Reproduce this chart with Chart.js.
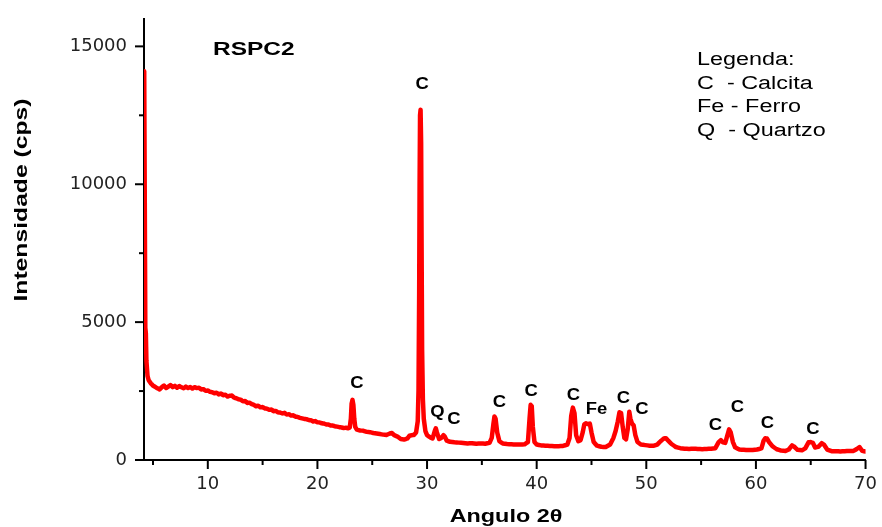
<!DOCTYPE html>
<html><head><meta charset="utf-8">
<script src="https://cdn.jsdelivr.net/npm/chart.js@4/dist/chart.umd.min.js"></script>
<style>html,body{margin:0;padding:0;background:#fff}</style>
</head><body>
<canvas id="c" width="882" height="527"></canvas>
<script>
// ---- data ----
const angle = [
4.2,4.25,4.3,4.35,4.4,4.5,4.6,
4.8,5.0,5.2,5.4,5.6,5.8,6.0,6.2,6.4,6.6,6.8,7.0,7.2,7.4,7.6,7.8,8.0,8.2,8.4,8.6,8.8,9.0,9.2,9.4,9.6,9.8,
10.0,10.2,10.4,10.6,10.8,11.0,11.2,11.4,11.6,11.8,12.0,12.2,12.4,12.6,12.8,13.0,13.2,13.4,13.6,13.8,
14.0,14.2,14.4,14.6,14.8,15.0,15.2,15.4,15.6,15.8,16.0,16.2,16.4,16.6,16.8,17.0,17.2,17.4,17.6,17.8,
18.0,18.2,18.4,18.6,18.8,19.0,19.2,19.4,19.6,19.8,20.0,20.2,20.4,20.6,20.8,21.0,21.2,21.4,21.6,21.8,
22.0,22.2,22.4,22.6,22.8,22.95,23.05,23.12,23.2,23.28,23.36,23.45,23.6,23.9,24.2,24.5,24.8,25.1,25.4,25.7,26.0,26.3,26.6,
26.8,27.0,27.3,27.6,27.9,28.2,28.4,28.6,28.8,29.0,29.15,29.22,29.28,29.32,29.36,29.41,29.46,29.5,29.55,29.62,29.7,
29.85,30.0,30.3,30.5,30.7,30.8,30.9,31.1,31.3,31.5,31.6,31.8,32.1,32.5,32.9,33.3,33.7,34.1,34.5,34.9,
35.3,35.7,35.9,36.05,36.15,36.25,36.4,36.6,36.9,37.3,37.7,38.1,38.5,38.9,39.2,39.35,39.45,39.55,39.65,
39.8,40.0,40.4,40.8,41.2,41.6,42.0,42.4,42.8,43.0,43.15,43.3,43.45,43.6,43.8,44.0,44.2,44.35,44.5,44.7,
44.85,45.0,45.2,45.5,45.9,46.3,46.7,47.0,47.2,47.4,47.55,47.7,47.85,48.0,48.15,48.3,48.45,48.55,48.7,
48.85,49.0,49.2,49.5,49.9,50.3,50.7,51.0,51.3,51.6,51.8,52.0,52.3,52.7,53.1,53.5,53.9,54.3,54.7,55.1,
55.5,55.9,56.3,56.6,56.8,57.0,57.2,57.4,57.55,57.7,57.9,58.1,58.5,58.9,59.3,59.7,60.1,60.5,60.7,60.85,
61.0,61.2,61.5,61.9,62.3,62.7,63.0,63.3,63.5,63.8,64.2,64.5,64.8,65.0,65.2,65.4,65.7,66.0,66.2,66.5,
66.9,67.3,67.7,68.1,68.5,68.9,69.2,69.45,69.7,70.0
];
const intensity = [
14100,9500,4800,4600,3600,3050,2900,
2780,2700,2650,2600,2560,2640,2700,2610,2660,2720,2640,2690,2620,2680,2640,2600,2660,2610,2650,2590,2640,2610,2620,2560,2570,2510,
2520,2470,2460,2420,2440,2380,2410,2350,2370,2300,2330,2340,2260,2240,2200,2190,2130,2140,2070,2080,
2030,2000,1950,1970,1910,1920,1870,1860,1820,1830,1770,1780,1730,1720,1690,1710,1650,1660,1610,1620,
1570,1560,1530,1510,1490,1480,1450,1440,1400,1410,1370,1360,1330,1320,1290,1290,1250,1250,1220,1210,
1190,1180,1160,1170,1150,1180,1500,2050,2180,2000,1500,1200,1100,1070,1060,1020,1010,980,960,940,920,910,960,
980,900,850,760,740,780,880,900,910,1000,1400,2500,6000,10000,12500,12700,11500,8000,4000,2200,1500,
1050,900,820,780,1050,1150,1000,760,800,900,860,700,660,640,630,620,600,610,590,600,
590,620,800,1300,1580,1500,1000,680,600,580,570,560,560,570,650,1500,2000,1950,1200,
650,560,530,520,510,500,500,510,560,800,1600,1900,1700,900,680,720,1000,1300,1330,1300,
1320,1000,650,520,480,470,560,800,1050,1400,1730,1700,1200,800,750,1100,1750,1500,1320,
1250,900,650,560,540,520,520,560,680,780,790,700,580,470,430,410,400,410,400,390,
400,410,430,650,720,640,620,900,1110,1000,650,460,380,370,360,360,380,420,700,790,
780,650,500,390,340,330,380,530,480,370,350,420,640,650,620,450,480,610,560,380,
320,320,310,320,330,330,400,470,330,310
];
const peakLabelText = ['C','C','Q','C','C','C','C','Fe','C','C','C','C','C','C'];
const peakLabelAngle = [23.6,29.55,30.95,32.45,36.6,39.5,43.36,45.45,47.9,49.6,56.3,58.3,61.05,65.2];
const peakLabelIntensity = [2770,13600,1730,1475,2070,2480,2340,1830,2210,1830,1260,1890,1330,1115];
const xMajorTicks = [10,20,30,40,50,60,70];
const xMinorTicks = [5,15,25,35,45,55,65];
const yMajorTicks = [0,5000,10000,15000];
const yMinorTicks = [2500,7500,12500];
const legendLines = ['Legenda:','C  - Calcita','Fe - Ferro','Q  - Quartzo'];
const sampleName = 'RSPC2';
const xTitle = 'Angulo 2\u03B8';
const yTitle = 'Intensidade (cps)';

// ---- helpers ----
function stretchedText(ctx, text, x, y, sx, font, align, rot){
  ctx.save();
  ctx.translate(x, y);
  if (rot) ctx.rotate(rot);
  ctx.scale(sx, 1);
  ctx.font = font;
  ctx.textAlign = align || 'left';
  ctx.fillStyle = '#000';
  ctx.fillText(text, 0, 0);
  ctx.restore();
}

const decor = {
  id: 'decor',
  afterDraw(chart){
    const {ctx, scales:{x, y}, chartArea} = chart;
    ctx.save();
    ctx.strokeStyle = '#000';
    ctx.lineWidth = 2;
    y.ticks.forEach(t => {
      const major = yMajorTicks.includes(t.value);
      if (!major && !yMinorTicks.includes(t.value)) return;
      const p = y.getPixelForValue(t.value);
      const len = major ? 9 : 5;
      ctx.beginPath(); ctx.moveTo(chartArea.left - len, p); ctx.lineTo(chartArea.left, p); ctx.stroke();
    });
    x.ticks.forEach(t => {
      const major = xMajorTicks.includes(t.value);
      if (!major && !xMinorTicks.includes(t.value)) return;
      const p = x.getPixelForValue(t.value);
      const len = major ? 9 : 5;
      ctx.beginPath(); ctx.moveTo(p, chartArea.bottom); ctx.lineTo(p, chartArea.bottom + len); ctx.stroke();
    });
    ctx.restore();

    ctx.save();
    ctx.textBaseline = 'middle';
    peakLabelText.forEach((s, i) => {
      const px = x.getPixelForValue(peakLabelAngle[i]);
      const py = y.getPixelForValue(peakLabelIntensity[i]);
      stretchedText(ctx, s, px, py, 1.15, 'bold 16px "Liberation Sans", Arial, sans-serif', 'center');
    });
    ctx.restore();

    ctx.save();
    ctx.textBaseline = 'alphabetic';
    stretchedText(ctx, sampleName, 213, 55, 1.36, 'bold 18px "Liberation Sans", Arial, sans-serif', 'left');
    const base = [65, 88.5, 112, 135.5];
    legendLines.forEach((s, i) => stretchedText(ctx, s, 697, base[i], 1.3, '18px "Liberation Sans", Arial, sans-serif', 'left'));
    stretchedText(ctx, xTitle, 506, 522, 1.3, 'bold 18px "Liberation Sans", Arial, sans-serif', 'center');
    ctx.textBaseline = 'middle';
    stretchedText(ctx, yTitle, 22, 200, 1.3, 'bold 19px "Liberation Sans", Arial, sans-serif', 'center', -Math.PI/2);
    ctx.restore();
  }
};

new Chart(document.getElementById('c'), {
  type: 'line',
  data: { datasets: [{
    data: angle.map((a, i) => ({x: a, y: intensity[i]})),
    borderColor: '#ff0000', borderWidth: 4.5, pointRadius: 0, tension: 0.0001, fill: false,
    borderJoinStyle: 'round', borderCapStyle: 'round'
  }]},
  options: {
    responsive: false, animation: false, devicePixelRatio: 1,
    layout: { padding: { top: 16, right: 14, left: 0, bottom: 0 } },
    plugins: { legend: { display: false }, tooltip: { enabled: false } },
    scales: {
      x: {
        type: 'linear', min: 4.18, max: 70,
        border: { display: true, color: '#000', width: 2 },
        grid: { display: true, drawOnChartArea: false, drawTicks: true, tickLength: 9, color: 'rgba(0,0,0,0)' },
        afterBuildTicks: s => { s.ticks = xMinorTicks.concat(xMajorTicks).sort((a, b) => a - b).map(v => ({value: v})); },
        ticks: { autoSkip: false, maxRotation: 0, padding: 5, color: '#222',
          font: { family: '"DejaVu Sans", sans-serif', size: 18 },
          callback: v => xMajorTicks.includes(v) ? String(v) : '' },
        afterFit: s => { s.height = 67; }
      },
      y: {
        type: 'linear', min: 0, max: 16000,
        border: { display: true, color: '#000', width: 2 },
        grid: { display: true, drawOnChartArea: false, drawTicks: true, tickLength: 9, color: 'rgba(0,0,0,0)' },
        afterBuildTicks: s => { s.ticks = yMinorTicks.concat(yMajorTicks).sort((a, b) => a - b).map(v => ({value: v})); },
        ticks: { autoSkip: false, padding: 8, color: '#222',
          font: { family: '"DejaVu Sans", sans-serif', size: 18 },
          callback: v => yMajorTicks.includes(v) ? String(v) : '' },
        afterFit: s => { s.width = 144; }
      }
    }
  },
  plugins: [decor]
});
</script>
</body></html>
